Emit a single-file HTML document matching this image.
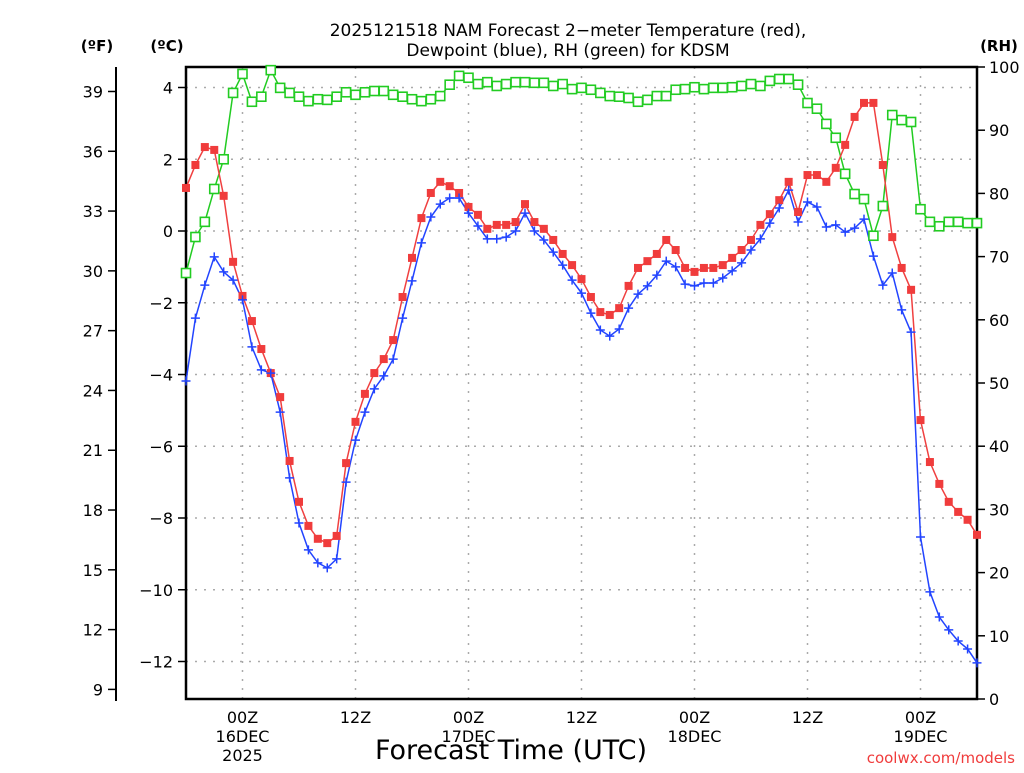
<!DOCTYPE html>
<html><head><meta charset="utf-8"><style>
body{margin:0;background:#fff;width:1024px;height:768px;overflow:hidden}
svg text{font-family:"DejaVu Sans","Liberation Sans",sans-serif}
</style></head><body>
<svg id="chart" width="1024" height="768" xmlns="http://www.w3.org/2000/svg">
<g id="grid"></g>
<g id="axes"></g>
<g id="series"></g>
<text x="568" y="36" font-size="17" text-anchor="middle">2025121518 NAM Forecast 2−meter Temperature (red),</text>
<text x="568" y="56" font-size="17" text-anchor="middle">Dewpoint (blue), RH (green) for KDSM</text>
<text x="97" y="51" font-size="15" font-weight="bold" text-anchor="middle">(ºF)</text>
<text x="167" y="51" font-size="15" font-weight="bold" text-anchor="middle">(ºC)</text>
<text x="999" y="51" font-size="15" font-weight="bold" text-anchor="middle">(RH)</text>
<text x="511" y="759" font-size="27" text-anchor="middle">Forecast Time (UTC)</text>
<text x="1015" y="763" font-size="15" fill="#f03c3c" text-anchor="end">coolwx.com/models</text>
</svg>
<script>
const hours = Array.from({length:85},(_,i)=>i);
const tempC = [1.20,1.84,2.34,2.26,0.98,-0.86,-1.81,-2.51,-3.29,-3.96,-4.63,-6.41,-7.55,-8.22,-8.58,-8.70,-8.50,-6.47,-5.32,-4.54,-3.96,-3.57,
-3.04,-1.84,-0.75,0.36,1.06,1.37,1.25,1.06,0.67,0.45,0.06,0.17,0.17,0.25,0.75,0.25,0.06,-0.25,-0.64,-0.95,-1.34,-1.84,
-2.26,-2.34,-2.15,-1.53,-1.03,-0.84,-0.64,-0.25,-0.53,-1.03,-1.14,-1.03,-1.03,-0.95,-0.75,-0.53,-0.25,0.17,0.47,0.86,1.37,
0.53,1.56,1.56,1.37,1.76,2.40,3.18,3.57,3.57,1.84,-0.17,-1.03,-1.64,-5.27,-6.44,-7.05,-7.55,-7.83,-8.05,-8.47];
const dewC = [-4.18,-2.43,-1.51,-0.72,-1.14,-1.37,-1.92,-3.23,-3.87,-3.96,-5.05,-6.88,-8.14,-8.89,-9.25,-9.39,-9.14,-7.00,-5.83,-5.05,-4.40,-4.04,
-3.57,-2.43,-1.39,-0.33,0.39,0.75,0.92,0.92,0.50,0.14,-0.22,-0.22,-0.17,0.00,0.50,0.00,-0.25,-0.59,-0.95,-1.37,-1.73,
-2.29,-2.76,-2.93,-2.73,-2.15,-1.76,-1.53,-1.23,-0.84,-1.00,-1.48,-1.53,-1.45,-1.45,-1.31,-1.11,-0.89,-0.53,-0.22,0.22,0.64,1.14,
0.25,0.81,0.67,0.11,0.17,-0.03,0.08,0.33,-0.70,-1.51,-1.17,-2.20,-2.82,-8.53,-10.06,-10.76,-11.12,-11.43,-11.65,-12.04];
const rh = [67.4,73.1,75.5,80.7,85.4,95.9,98.9,94.5,95.3,99.5,96.7,95.9,95.3,94.6,94.9,94.8,95.3,96.0,95.6,96.0,96.2,96.2,
95.6,95.3,94.9,94.6,94.9,95.4,97.2,98.6,98.3,97.3,97.6,97.0,97.3,97.6,97.6,97.5,97.5,97.0,97.3,96.5,96.7,
96.4,95.9,95.4,95.3,95.1,94.5,94.8,95.4,95.4,96.4,96.5,96.8,96.5,96.7,96.7,96.8,97.0,97.3,97.0,97.8,98.1,98.1,
97.2,94.3,93.4,91.0,88.8,83.1,79.9,79.1,73.3,78.0,92.4,91.6,91.3,77.5,75.5,74.8,75.5,75.5,75.3,75.3];
const cTicks = [4,2,0,-2,-4,-6,-8,-10,-12];
const fTicks = [39,36,33,30,27,24,21,18,15,12,9];
const rhTicks = [100,90,80,70,60,50,40,30,20,10,0];
const timeTicks = [6,18,30,42,54,66,78];
const timeLabels = [["00Z","16DEC","2025"],["12Z"],["00Z","17DEC"],["12Z"],["00Z","18DEC"],["12Z"],["00Z","19DEC"]];

const L=186,R=977,T=67,B=699;
const xS=h=>L+(R-L)*h/84;
const yC=c=>231-c*35.875;
const yR=v=>B-(B-T)*v/100;
const yF=f=>yC((f-32)*5/9);
const NS='http://www.w3.org/2000/svg';
function mk(tag,attrs,parent,txt){const e=document.createElementNS(NS,tag);for(const k in attrs)e.setAttribute(k,attrs[k]);if(txt!==undefined)e.textContent=txt;parent.appendChild(e);return e;}
const grid=document.getElementById('grid'),axes=document.getElementById('axes'),ser=document.getElementById('series');

cTicks.forEach(c=>{
 const g=mk('line',{x1:L,x2:R,y1:yC(c),y2:yC(c),stroke:'#aaa','stroke-width':1.5,'stroke-dasharray':'2,7'},grid);
 
 
 mk('line',{x1:L-8,x2:L,y1:yC(c),y2:yC(c),stroke:'#000','stroke-width':1.5},axes);
 const t=mk('text',{x:L-13,y:yC(c)+6,'font-size':16,'text-anchor':'end'},axes,(c<0?'−':'')+Math.abs(c));
 
 
});
timeTicks.forEach((h,i)=>{
 const g=mk('line',{x1:xS(h),x2:xS(h),y1:T,y2:B,stroke:'#aaa','stroke-width':1.5,'stroke-dasharray':'2,7'},grid);
 
 
 timeLabels[i].forEach((s,j)=>{
  const t=mk('text',{x:xS(h),y:723+j*19,'font-size':16,'text-anchor':'middle'},axes,s);
  
  
 });
});
fTicks.forEach(f=>{
 mk('line',{x1:108,x2:116,y1:yF(f),y2:yF(f),stroke:'#000','stroke-width':1.5},axes);
 const t=mk('text',{x:103,y:yF(f)+6,'font-size':16,'text-anchor':'end'},axes,String(f));
 
 
});
rhTicks.forEach(v=>{
 mk('line',{x1:R,x2:R+8,y1:yR(v),y2:yR(v),stroke:'#000','stroke-width':1.5},axes);
 const t=mk('text',{x:R+12,y:yR(v)+6,'font-size':16,'text-anchor':'start'},axes,String(v));
 
 
});
mk('rect',{x:L,y:T,width:R-L,height:B-T,fill:'none',stroke:'#000','stroke-width':2.5},axes);
mk('line',{x1:116,x2:116,y1:67,y2:701,stroke:'#000','stroke-width':2},axes);

function line(vals,yf,color,name){
 const p=mk('polyline',{points:vals.map((v,i)=>xS(hours[i])+','+yf(v)).join(' '),fill:'none',stroke:color,'stroke-width':1.5},ser);
 
 
}
line(rh,yR,'#22cc22','rh-line');
line(tempC,yC,'#f04040','temperature-line');
line(dewC,yC,'#2244ff','dewpoint-line');
rh.forEach((v,i)=>{const m=mk('rect',{x:xS(hours[i])-4.5,y:yR(v)-4.5,width:9,height:9,fill:'#fff',stroke:'#22cc22','stroke-width':1.6},ser);
 
 });
tempC.forEach((v,i)=>{const m=mk('rect',{x:xS(hours[i])-4,y:yC(v)-4,width:8,height:8,fill:'#f03c3c'},ser);
 
 });
dewC.forEach((v,i)=>{const x=xS(hours[i]),y=yC(v);const m=mk('path',{d:`M${x-4.5},${y}H${x+4.5}M${x},${y-4.5}V${y+4.5}`,stroke:'#2244ff','stroke-width':1.5},ser);
 
 });
</script>
</body></html>
